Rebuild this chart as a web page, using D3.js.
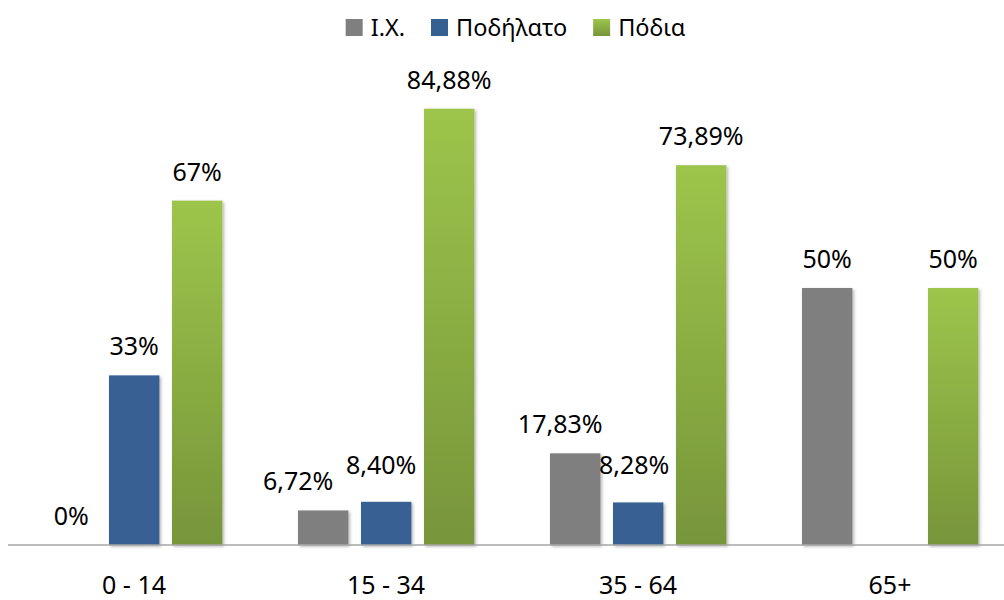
<!DOCTYPE html>
<html>
<head>
<meta charset="utf-8">
<script src="https://cdn.jsdelivr.net/npm/d3@7"></script>
<style>
  html, body { margin: 0; padding: 0; background: #fff; }
  svg { display: block; font-family: "Noto Sans", "Open Sans", sans-serif; }
</style>
</head>
<body>
<svg id="chart" width="1004" height="600"></svg>
<script>
// ---- data ----
const categories = ["0 - 14", "15 - 34", "35 - 64", "65+"];
const seriesNames = ["Ι.Χ.", "Ποδήλατο", "Πόδια"];
const carValues  = [0, 6.72, 17.83, 50];
const bikeValues = [33, 8.40, 8.28, null];
const walkValues = [67, 84.88, 73.89, 50];
const carLabels  = ["0%", "6,72%", "17,83%", "50%"];
const bikeLabels = ["33%", "8,40%", "8,28%", ""];
const walkLabels = ["67%", "84,88%", "73,89%", "50%"];

const seriesValues = [carValues, bikeValues, walkValues];
const seriesLabels = [carLabels, bikeLabels, walkLabels];

// ---- layout ----
const svg = d3.select("#chart");
const baseY = 545;
const x0 = d3.scaleBand().domain(categories).range([8, 1016]).padding(0);
const x1 = d3.scaleBand().domain(seriesNames).range([38, 214.4]).paddingInner(0.2).paddingOuter(0);
const y = d3.scaleLinear().domain([0, 100]).range([baseY, 31]);

const defs = svg.append("defs");
const fills = {};
function grad(id, top, bottom) {
  const g = defs.append("linearGradient").attr("id", id)
    .attr("x1", 0).attr("y1", 0).attr("x2", 0).attr("y2", 1);
  g.append("stop").attr("offset", "0%").attr("stop-color", top);
  g.append("stop").attr("offset", "100%").attr("stop-color", bottom);
  return `url(#${id})`;
}
fills["Ι.Χ."] = "#7f7f7f";
fills["Ποδήλατο"] = "#376092";
fills["Πόδια"] = grad("gGreen", "#9dc54b", "#77953a");

const sh = defs.append("filter").attr("id", "shadow")
  .attr("x", "-20%").attr("y", "-5%").attr("width", "150%").attr("height", "115%");
sh.append("feDropShadow").attr("dx", 1.5).attr("dy", 1.5)
  .attr("stdDeviation", 1.6).attr("flood-color", "#000").attr("flood-opacity", 0.3);

// flat records
const records = [];
categories.forEach((c, ci) => {
  seriesNames.forEach((s, si) => {
    records.push({ cat: c, series: s, value: seriesValues[si][ci], label: seriesLabels[si][ci] });
  });
});

// bars
svg.append("g").selectAll("rect")
  .data(records.filter(d => d.value !== null && d.value > 0))
  .join("rect")
  .attr("x", d => x0(d.cat) + x1(d.series))
  .attr("y", d => y(d.value))
  .attr("width", x1.bandwidth())
  .attr("height", d => y(0) - y(d.value))
  .attr("fill", d => fills[d.series])
  .attr("filter", "url(#shadow)");

// axis line
svg.append("line")
  .attr("x1", 8).attr("x2", 1004)
  .attr("y1", y(0)).attr("y2", y(0))
  .attr("stroke", "#a6a6a6").attr("stroke-width", 1.5);

// value labels (collision nudges for crowded small bars)
const nudge = {
  "15 - 34|Ι.Χ.": [-25, 0],
  "15 - 34|Ποδήλατο": [-5, -8],
  "35 - 64|Ι.Χ.": [-15, 0],
  "35 - 64|Ποδήλατο": [-4, -8]
};
svg.append("g").selectAll("text")
  .data(records.filter(d => d.value !== null && d.label))
  .join("text")
  .attr("x", d => x0(d.cat) + x1(d.series) + x1.bandwidth() / 2 + ((nudge[d.cat + "|" + d.series] || [0, 0])[0]))
  .attr("y", d => y(d.value) - 20 + ((nudge[d.cat + "|" + d.series] || [0, 0])[1]))
  .attr("text-anchor", "middle")
  .attr("font-size", 25)
  .attr("fill", "#000")
  .text(d => d.label);

// category labels
const xAxis = d3.axisBottom(x0).tickSize(0).tickPadding(0);
const gx = svg.append("g").attr("transform", `translate(0,${baseY})`).call(xAxis);
gx.select(".domain").remove();
gx.selectAll("text")
  .attr("y", 48.5).attr("dy", 0)
  .attr("font-size", 25)
  .attr("font-family", "\"Noto Sans\", sans-serif")
  .attr("fill", "#000");

// legend
const legend = svg.append("g");
let lx = 0;
const items = [];
seriesNames.forEach(s => {
  const g = legend.append("g");
  g.append("rect").attr("x", 0).attr("y", 19).attr("width", 17).attr("height", 17)
    .attr("fill", fills[s]);
  const t = g.append("text").attr("x", 25).attr("y", 36)
    .attr("font-size", 23.5).attr("fill", "#000").text(s);
  const w = 25 + t.node().getComputedTextLength();
  items.push({ g, w });
});
const gap = 26;
const total = d3.sum(items, d => d.w) + gap * (items.length - 1);
lx = 340 + (691 - 340 - total) / 2;
items.forEach(it => {
  it.g.attr("transform", `translate(${lx},0)`);
  lx += it.w + gap;
});
</script>
</body>
</html>
